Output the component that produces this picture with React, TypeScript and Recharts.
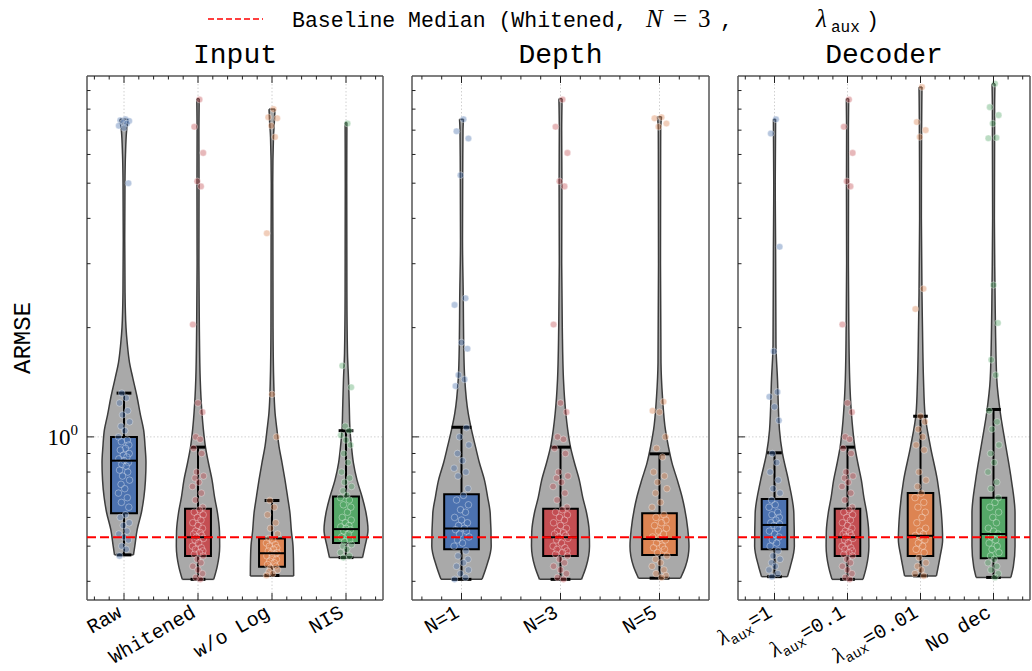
import React from "react"
import {
  ComposedChart, Area, Scatter, XAxis, YAxis, ReferenceArea, ReferenceLine,
} from "recharts"

const MONO = '"Liberation Mono", "DejaVu Sans Mono", monospace'
const SERIF = '"Liberation Serif", "DejaVu Serif", serif'

const BLUE = "#4c72b0"
const RED = "#c44e52"
const ORANGE = "#dd8452"
const GREEN = "#55a868"
const VIOLIN_FILL = "#a9a9a9"
const VIOLIN_EDGE = "#3c3c3c"
const FRAME = "#555"

const Y_DOMAIN = [0.3553, 9.87]
const Y_TICKS = [0.4, 0.5, 0.6, 0.7, 0.8, 0.9, 1, 2, 3, 4, 5, 6, 7, 8, 9]
const X_TICKS_4 = [-0.4, -0.2, 0, 0.2, 0.4, 0.6, 0.8, 1, 1.2, 1.4, 1.6, 1.8, 2, 2.2, 2.4, 2.6, 2.8, 3, 3.2, 3.4]
const X_TICKS_3 = [-0.4, -0.2, 0, 0.2, 0.4, 0.6, 0.8, 1, 1.2, 1.4, 1.6, 1.8, 2, 2.2, 2.4]
const BASELINE = 0.529

const INPUT_LABELS = ["Raw", "Whitened", "w/o Log", "NIS"]
const DEPTH_LABELS = ["N=1", "N=3", "N=5"]
const DECODER_LABELS = ["λaux=1", "λaux=0.1", "λaux=0.01", "No dec"]

// jitter offsets for the strip points (category units)
const JITTER = [0.02, -0.05, 0.07, -0.01, 0.04, -0.07, 0.0, 0.06, -0.03, 0.03, -0.06, 0.05, -0.02, 0.075, -0.04, 0.01, -0.075, 0.045, -0.035, 0.065]

// box stats: [low whisker, q1, median, q3, high whisker]
const RAW_BOX = [0.473, 0.616, 0.86, 1.0, 1.32]
const BASE_BOX = [0.405, 0.47, 0.529, 0.634, 0.937]
const WOLOG_BOX = [0.415, 0.439, 0.478, 0.525, 0.668]
const NIS_BOX = [0.465, 0.51, 0.557, 0.685, 1.04]
const N1_BOX = [0.405, 0.49, 0.559, 0.695, 1.063]
const N5_BOX = [0.408, 0.473, 0.523, 0.616, 0.898]
const L1_BOX = [0.412, 0.49, 0.572, 0.674, 0.904]
const L001_BOX = [0.414, 0.47, 0.534, 0.7, 1.14]
const NODEC_BOX = [0.41, 0.463, 0.54, 0.68, 1.19]

// violin profiles: [value, half width]
const RAW_VIOLIN = [[0.473, 0.128], [0.5, 0.146], [0.555, 0.178], [0.62, 0.236], [0.685, 0.27], [0.76, 0.29], [0.85, 0.297], [0.94, 0.285], [1.045, 0.265], [1.15, 0.222], [1.29, 0.176], [1.45, 0.12], [1.6, 0.075], [1.8, 0.045], [2.0, 0.027], [2.5, 0.014], [3.5, 0.01], [5.0, 0.013], [6.0, 0.02], [7.0, 0.036], [7.5, 0.055]]
const BASE_VIOLIN = [[0.405, 0.212], [0.44, 0.26], [0.5, 0.293], [0.55, 0.29], [0.618, 0.263], [0.68, 0.225], [0.76, 0.19], [0.85, 0.14], [0.94, 0.1], [1.05, 0.072], [1.16, 0.054], [1.44, 0.03], [2.0, 0.018], [3.0, 0.012], [5.0, 0.014], [7.0, 0.012], [8.55, 0.016]]
const WOLOG_VIOLIN = [[0.414, 0.293], [0.44, 0.292], [0.5, 0.284], [0.55, 0.262], [0.616, 0.243], [0.685, 0.21], [0.76, 0.176], [0.85, 0.135], [0.94, 0.095], [1.05, 0.066], [1.16, 0.042], [1.4, 0.024], [2.0, 0.014], [3.6, 0.012], [5.0, 0.01], [6.7, 0.02], [7.5, 0.034], [8.0, 0.04]]
const NIS_VIOLIN = [[0.465, 0.223], [0.5, 0.257], [0.555, 0.297], [0.618, 0.27], [0.685, 0.216], [0.76, 0.149], [0.848, 0.1], [0.94, 0.074], [1.045, 0.054], [1.2, 0.045], [1.44, 0.034], [1.7, 0.02], [2.5, 0.012], [5.0, 0.01], [7.35, 0.012]]
const N1_VIOLIN = [[0.405, 0.207], [0.44, 0.253], [0.5, 0.3], [0.616, 0.29], [0.685, 0.263], [0.76, 0.232], [0.85, 0.18], [0.94, 0.141], [1.045, 0.101], [1.16, 0.068], [1.44, 0.033], [1.8, 0.022], [2.4, 0.018], [3.5, 0.01], [5.3, 0.012], [7.0, 0.015], [7.5, 0.02]]
const N5_VIOLIN = [[0.408, 0.212], [0.44, 0.263], [0.5, 0.298], [0.555, 0.286], [0.685, 0.227], [0.76, 0.18], [0.848, 0.126], [0.94, 0.09], [1.045, 0.06], [1.29, 0.03], [1.6, 0.015], [3.0, 0.01], [7.0, 0.012], [7.62, 0.02]]
const L1_VIOLIN = [[0.412, 0.177], [0.44, 0.218], [0.5, 0.272], [0.616, 0.265], [0.76, 0.19], [0.9, 0.109], [1.045, 0.068], [1.44, 0.041], [1.8, 0.02], [3.3, 0.015], [5.0, 0.01], [7.5, 0.015]]
const L001_VIOLIN = [[0.414, 0.218], [0.47, 0.27], [0.52, 0.303], [0.616, 0.286], [0.76, 0.231], [0.94, 0.136], [1.16, 0.061], [1.44, 0.041], [2.0, 0.027], [2.5, 0.02], [4.0, 0.012], [7.0, 0.015], [9.2, 0.02]]
const NODEC_VIOLIN = [[0.41, 0.238], [0.44, 0.272], [0.5, 0.295], [0.616, 0.295], [0.76, 0.245], [0.94, 0.17], [1.16, 0.095], [1.44, 0.045], [2.0, 0.027], [2.6, 0.02], [4.0, 0.012], [6.7, 0.015], [8.0, 0.015], [9.4, 0.02]]

// individual runs (ARMSE)
const RAW_POINTS = [7.5, 7.45, 7.42, 7.35, 7.3, 7.2, 7.1, 5.0, 1.32, 1.28, 1.24, 1.18, 1.15, 1.1, 1.07, 1.04, 1.0, 0.98, 0.97, 0.95, 0.93, 0.92, 0.9, 0.89, 0.88, 0.87, 0.86, 0.85, 0.84, 0.83, 0.81, 0.8, 0.78, 0.76, 0.74, 0.72, 0.7, 0.68, 0.66, 0.64, 0.61, 0.6, 0.58, 0.57, 0.55, 0.54, 0.53, 0.52, 0.5, 0.49, 0.47]
const BASE_POINTS = [8.5, 7.15, 6.06, 5.06, 4.9, 2.04, 1.24, 1.17, 1.0, 0.985, 0.93, 0.9, 0.8, 0.78, 0.77, 0.75, 0.73, 0.7, 0.67, 0.64, 0.63, 0.62, 0.61, 0.6, 0.59, 0.58, 0.57, 0.56, 0.55, 0.545, 0.54, 0.535, 0.53, 0.525, 0.52, 0.51, 0.5, 0.495, 0.49, 0.485, 0.48, 0.475, 0.47, 0.46, 0.45, 0.44, 0.43, 0.42, 0.41, 0.405]
const WOLOG_POINTS = [8.0, 7.6, 7.55, 7.2, 6.7, 3.64, 1.31, 1.0, 0.668, 0.64, 0.61, 0.58, 0.56, 0.54, 0.525, 0.52, 0.51, 0.505, 0.5, 0.495, 0.49, 0.485, 0.48, 0.478, 0.475, 0.47, 0.465, 0.46, 0.455, 0.45, 0.445, 0.44, 0.435, 0.43, 0.425, 0.42, 0.415]
const NIS_POINTS = [7.3, 1.57, 1.37, 1.07, 1.04, 1.01, 0.98, 0.95, 0.9, 0.85, 0.8, 0.77, 0.75, 0.73, 0.71, 0.69, 0.68, 0.67, 0.65, 0.64, 0.62, 0.6, 0.59, 0.58, 0.57, 0.565, 0.56, 0.555, 0.55, 0.54, 0.53, 0.52, 0.515, 0.505, 0.5, 0.49, 0.48, 0.47, 0.465]
const N1_POINTS = [7.5, 6.95, 6.64, 5.26, 2.41, 2.31, 1.82, 1.75, 1.48, 1.44, 1.38, 1.06, 1.0, 0.95, 0.9, 0.86, 0.82, 0.8, 0.78, 0.72, 0.69, 0.67, 0.65, 0.63, 0.62, 0.6, 0.59, 0.58, 0.57, 0.56, 0.555, 0.55, 0.54, 0.53, 0.52, 0.51, 0.5, 0.485, 0.47, 0.46, 0.45, 0.44, 0.43, 0.42, 0.41, 0.405]
const N5_POINTS = [7.6, 7.55, 7.3, 7.15, 1.25, 1.18, 1.17, 1.0, 0.93, 0.88, 0.8, 0.78, 0.75, 0.72, 0.7, 0.66, 0.64, 0.61, 0.6, 0.59, 0.58, 0.57, 0.56, 0.55, 0.54, 0.53, 0.525, 0.52, 0.51, 0.5, 0.495, 0.49, 0.48, 0.47, 0.46, 0.45, 0.44, 0.43, 0.42, 0.415, 0.41]
const L1_POINTS = [7.5, 6.85, 3.34, 1.72, 1.33, 1.29, 1.21, 1.11, 0.9, 0.85, 0.8, 0.76, 0.72, 0.7, 0.67, 0.65, 0.64, 0.62, 0.61, 0.6, 0.59, 0.58, 0.575, 0.57, 0.56, 0.55, 0.54, 0.53, 0.52, 0.51, 0.5, 0.485, 0.47, 0.46, 0.45, 0.44, 0.43, 0.42, 0.412]
const L001_POINTS = [9.2, 7.37, 7.0, 6.7, 2.56, 2.25, 1.14, 1.1, 1.05, 1.0, 0.95, 0.92, 0.8, 0.76, 0.73, 0.7, 0.68, 0.66, 0.64, 0.62, 0.6, 0.58, 0.56, 0.55, 0.54, 0.535, 0.53, 0.52, 0.51, 0.5, 0.49, 0.48, 0.465, 0.45, 0.44, 0.43, 0.42, 0.414]
const NODEC_POINTS = [9.4, 8.1, 7.7, 7.3, 6.67, 6.65, 2.62, 2.06, 1.63, 1.48, 1.18, 1.1, 1.05, 0.95, 0.9, 0.85, 0.8, 0.75, 0.72, 0.68, 0.66, 0.64, 0.62, 0.6, 0.58, 0.56, 0.55, 0.54, 0.53, 0.52, 0.51, 0.5, 0.49, 0.48, 0.47, 0.46, 0.45, 0.44, 0.43, 0.42, 0.41]

const INPUT_GROUPS = [
  { color: BLUE, box: RAW_BOX, violin: RAW_VIOLIN, points: RAW_POINTS },
  { color: RED, box: BASE_BOX, violin: BASE_VIOLIN, points: BASE_POINTS },
  { color: ORANGE, box: WOLOG_BOX, violin: WOLOG_VIOLIN, points: WOLOG_POINTS },
  { color: GREEN, box: NIS_BOX, violin: NIS_VIOLIN, points: NIS_POINTS },
]
const DEPTH_GROUPS = [
  { color: BLUE, box: N1_BOX, violin: N1_VIOLIN, points: N1_POINTS },
  { color: RED, box: BASE_BOX, violin: BASE_VIOLIN, points: BASE_POINTS },
  { color: ORANGE, box: N5_BOX, violin: N5_VIOLIN, points: N5_POINTS },
]
const DECODER_GROUPS = [
  { color: BLUE, box: L1_BOX, violin: L1_VIOLIN, points: L1_POINTS },
  { color: RED, box: BASE_BOX, violin: BASE_VIOLIN, points: BASE_POINTS },
  { color: ORANGE, box: L001_BOX, violin: L001_VIOLIN, points: L001_POINTS },
  { color: GREEN, box: NODEC_BOX, violin: NODEC_VIOLIN, points: NODEC_POINTS },
]

const CHART_H = 671
const BOX_HALF = 0.175
const CAP_HALF = 0.1

function tickLabel(text: string) {
  if (text.startsWith("λaux")) {
    return (
      <>
        <tspan fontFamily={SERIF} fontStyle="italic" fontSize={22}>λ</tspan>
        <tspan fontSize={14} dy={5}>aux</tspan>
        <tspan dy={-5}>{text.slice(4)}</tspan>
      </>
    )
  }
  return text
}

const LeftTick = ({ x, y, payload, showLabel }: any) => {
  const major = payload.value === 1
  return (
    <g>
      <line x1={x} x2={x + (major ? 7 : 3.5)} y1={y} y2={y} stroke="#222" strokeWidth={1} />
      {showLabel && major && (
        <text x={x - 9} y={y + 8} textAnchor="end" fontFamily={SERIF} fontSize={23} fill="#000">
          10<tspan fontSize={15} dy={-10}>0</tspan>
        </text>
      )}
    </g>
  )
}

const RightTick = ({ x, y, payload }: any) => {
  const major = payload.value === 1
  return <line x1={x} x2={x - (major ? 7 : 3.5)} y1={y} y2={y} stroke="#222" strokeWidth={1} />
}

const TopTick = ({ x, y, payload }: any) => {
  const major = Number.isInteger(payload.value)
  return <line x1={x} x2={x} y1={y} y2={y + (major ? 7 : 3.5)} stroke="#222" strokeWidth={1} />
}

const BottomTick = ({ x, y, payload, labels }: any) => {
  const major = Number.isInteger(payload.value)
  return (
    <g>
      <line x1={x} x2={x} y1={y} y2={y - (major ? 7 : 3.5)} stroke="#222" strokeWidth={1} />
      {major && (
        <text transform={`translate(${x - 1},${y + 16}) rotate(-30)`} textAnchor="end"
          fontFamily={MONO} fontSize={20} fill="#000">
          {tickLabel(labels[payload.value])}
        </text>
      )}
    </g>
  )
}

function Panel({ groups, labels, xTicks, left, width, padL, padR, showY }: any) {
  const n = groups.length
  const xDomain = [-0.5, n - 0.5]
  return (
    <div style={{ position: "absolute", left, top: 0 }}>
      <ComposedChart layout="vertical" width={width} height={CHART_H}
        margin={{ top: 0, right: 0, bottom: 0, left: 0 }}>
        <XAxis type="number" dataKey="x" domain={xDomain} allowDataOverflow ticks={xTicks}
          interval={0} height={71} tickSize={0} tickMargin={0} tickLine={false}
          axisLine={{ stroke: FRAME, strokeWidth: 1.5 }}
          tick={(p: any) => <BottomTick {...p} labels={labels} />} />
        <XAxis xAxisId="top" orientation="top" type="number" domain={xDomain} allowDataOverflow
          ticks={xTicks} interval={0} height={76} tickSize={0} tickMargin={0} tickLine={false}
          axisLine={{ stroke: FRAME, strokeWidth: 1.5 }} tick={(p: any) => <TopTick {...p} />} />
        <YAxis type="number" dataKey="v" scale="log" domain={Y_DOMAIN} allowDataOverflow reversed
          ticks={Y_TICKS} interval={0} width={padL} tickSize={0} tickMargin={0} tickLine={false}
          axisLine={{ stroke: FRAME, strokeWidth: 1.5 }}
          tick={(p: any) => <LeftTick {...p} showLabel={showY} />} />
        <YAxis yAxisId="right" orientation="right" type="number" scale="log" domain={Y_DOMAIN}
          allowDataOverflow reversed ticks={Y_TICKS} interval={0} width={padR} tickSize={0}
          tickMargin={0} tickLine={false} axisLine={{ stroke: FRAME, strokeWidth: 1.5 }}
          tick={(p: any) => <RightTick {...p} />} />

        {groups.map((_g: any, i: number) => (
          <ReferenceLine key={`gx${i}`} x={i} stroke="#c4c4c4" strokeWidth={0.8} strokeDasharray="1.5 2" zIndex={50} />
        ))}
        <ReferenceLine y={1} stroke="#c4c4c4" strokeWidth={0.8} strokeDasharray="1.5 2" zIndex={50} />

        {groups.map((g: any, i: number) => (
          <Area key={`vio${i}`} data={g.violin.map(([v, w]: number[]) => ({ v, w: [i - w, i + w] }))}
            dataKey="w" type="monotone" fill={VIOLIN_FILL} fillOpacity={1} stroke={VIOLIN_EDGE}
            strokeWidth={1.5} dot={false} activeDot={false} isAnimationActive={false} zIndex={100} />
        ))}
        {groups.map((g: any, i: number) => {
          const lo = g.violin[0]
          const hi = g.violin[g.violin.length - 1]
          return [
            <ReferenceLine key={`vb${i}`} segment={[{ x: i - lo[1], y: lo[0] }, { x: i + lo[1], y: lo[0] }]}
              stroke={VIOLIN_EDGE} strokeWidth={1.5} zIndex={110} />,
            <ReferenceLine key={`vt${i}`} segment={[{ x: i - hi[1], y: hi[0] }, { x: i + hi[1], y: hi[0] }]}
              stroke={VIOLIN_EDGE} strokeWidth={1.5} zIndex={110} />,
          ]
        })}

        {groups.map((g: any, i: number) => (
          <ReferenceArea key={`box${i}`} x1={i - BOX_HALF} x2={i + BOX_HALF} y1={g.box[1]} y2={g.box[3]}
            fill={g.color} fillOpacity={1} stroke="#000" strokeWidth={2} zIndex={200} />
        ))}
        {groups.map((g: any, i: number) => {
          const [lo, q1, , q3, hi] = g.box
          return [
            <ReferenceLine key={`wl${i}`} segment={[{ x: i, y: lo }, { x: i, y: q1 }]} stroke="#000" strokeWidth={2} zIndex={300} />,
            <ReferenceLine key={`wh${i}`} segment={[{ x: i, y: q3 }, { x: i, y: hi }]} stroke="#000" strokeWidth={2} zIndex={300} />,
            <ReferenceLine key={`cl${i}`} segment={[{ x: i - CAP_HALF, y: lo }, { x: i + CAP_HALF, y: lo }]} stroke="#000" strokeWidth={3} zIndex={300} />,
            <ReferenceLine key={`ch${i}`} segment={[{ x: i - CAP_HALF, y: hi }, { x: i + CAP_HALF, y: hi }]} stroke="#000" strokeWidth={3} zIndex={300} />,
          ]
        })}

        {groups.map((g: any, i: number) => (
          <Scatter key={`pts${i}`} isAnimationActive={false} zIndex={600}
            data={g.points.map((v: number, k: number) => ({ x: i + JITTER[k % JITTER.length], v }))}
            shape={(p: any) => (
              <circle cx={p.cx} cy={p.cy} r={3.3} fill={g.color} fillOpacity={0.4}
                stroke="#fff" strokeOpacity={0.45} strokeWidth={0.8} />
            )} />
        ))}

        {groups.map((g: any, i: number) => (
          <ReferenceLine key={`med${i}`} segment={[{ x: i - BOX_HALF, y: g.box[2] }, { x: i + BOX_HALF, y: g.box[2] }]}
            stroke="#000" strokeWidth={2} zIndex={700} />
        ))}
        <ReferenceLine y={BASELINE} stroke="#ff0000" strokeWidth={2} strokeDasharray="9 4" zIndex={800} />
      </ComposedChart>
    </div>
  )
}

const TITLE_STYLE: React.CSSProperties = {
  position: "absolute", top: 40, fontFamily: MONO, fontSize: 28, lineHeight: "32px",
  textAlign: "center", color: "#000",
}

export default function App() {
  return (
    <div style={{ position: "absolute", left: 0, top: 0, width: 1032, height: 671, background: "#fff", fontFamily: MONO }}>
      <Panel groups={INPUT_GROUPS} labels={INPUT_LABELS} xTicks={X_TICKS_4}
        left={0} width={400} padL={87} padR={17} showY />
      <Panel groups={DEPTH_GROUPS} labels={DEPTH_LABELS} xTicks={X_TICKS_3}
        left={395} width={324} padL={17} padR={10} showY={false} />
      <Panel groups={DECODER_GROUPS} labels={DECODER_LABELS} xTicks={X_TICKS_4}
        left={698} width={334} padL={40} padR={2} showY={false} />

      <div style={{ ...TITLE_STYLE, left: 87, width: 296 }}>Input</div>
      <div style={{ ...TITLE_STYLE, left: 412, width: 297 }}>Depth</div>
      <div style={{ ...TITLE_STYLE, left: 738, width: 292 }}>Decoder</div>

      <svg style={{ position: "absolute", left: 0, top: 0 }} width={60} height={671}>
        <text transform="translate(30,338) rotate(-90)" textAnchor="middle" fontFamily={MONO} fontSize={24} fill="#000">ARMSE</text>
      </svg>

      <svg style={{ position: "absolute", left: 0, top: 0 }} width={1032} height={40}>
        <line x1={208} x2={263} y1={19} y2={19} stroke="#ff0000" strokeWidth={1.6} strokeDasharray="6 3" />
        <text x={292} y={27} fontFamily={MONO} fontSize={21.5} fill="#000">Baseline Median (Whitened,</text>
        <text x={646} y={27} fontFamily={SERIF} fontStyle="italic" fontSize={25} fill="#000">N</text>
        <text x={673} y={27} fontFamily={SERIF} fontSize={25} fill="#000">=</text>
        <text x={698} y={27} fontFamily={SERIF} fontSize={25} fill="#000">3</text>
        <text x={720} y={27} fontFamily={MONO} fontSize={21.5} fill="#000">,</text>
        <text x={816} y={27} fontFamily={SERIF} fontStyle="italic" fontSize={25} fill="#000">λ</text>
        <text x={831} y={32} fontFamily={MONO} fontSize={16} fill="#000">aux</text>
        <text x={866} y={27} fontFamily={MONO} fontSize={21.5} fill="#000">)</text>
      </svg>
    </div>
  )
}
